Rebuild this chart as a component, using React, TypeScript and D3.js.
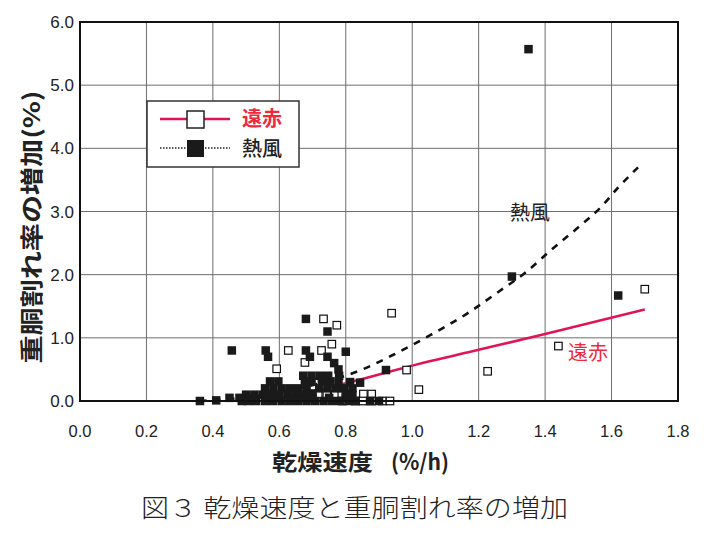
import React from "react";
import * as d3 from "d3";

// ---- data ----
const xTickValues = [0, 0.2, 0.4, 0.6, 0.8, 1.0, 1.2, 1.4, 1.6, 1.8];
const yTickValues = [0, 1, 2, 3, 4, 5, 6];

// 熱風 (hot air) – filled squares
const hotAirPoints: [number, number][] = [
  [1.35, 5.57], [1.30, 1.97], [1.62, 1.67], [0.68, 1.30], [0.745, 1.10],
  [0.457, 0.80], [0.559, 0.80], [0.566, 0.70], [0.68, 0.80], [0.692, 0.70],
  [0.80, 0.78], [0.745, 0.70], [0.765, 0.60], [0.778, 0.50], [0.78, 0.40],
  [0.921, 0.49], [0.843, 0.29],
  [0.672, 0.40], [0.697, 0.40], [0.722, 0.40], [0.747, 0.40],
  [0.572, 0.31], [0.597, 0.31], [0.677, 0.31], [0.697, 0.31], [0.728, 0.31],
  [0.753, 0.31], [0.778, 0.31], [0.813, 0.30],
  [0.557, 0.20], [0.582, 0.20], [0.607, 0.20], [0.632, 0.20], [0.657, 0.20],
  [0.682, 0.20], [0.72, 0.20], [0.745, 0.20], [0.77, 0.20], [0.795, 0.20], [0.82, 0.20],
  [0.50, 0.10], [0.525, 0.10], [0.55, 0.10], [0.575, 0.10], [0.60, 0.10],
  [0.625, 0.10], [0.65, 0.10], [0.675, 0.10], [0.70, 0.12], [0.80, 0.10], [0.82, 0.10],
  [0.45, 0.05], [0.48, 0.05], [0.52, 0.05], [0.56, 0.05], [0.60, 0.05],
  [0.64, 0.05], [0.70, 0.05], [0.75, 0.05], [0.80, 0.05],
  [0.361, 0], [0.41, 0.01], [0.487, 0], [0.506, 0], [0.53, 0], [0.557, 0], [0.581, 0],
  [0.607, 0], [0.632, 0], [0.657, 0], [0.682, 0], [0.707, 0], [0.733, 0],
  [0.758, 0], [0.783, 0], [0.808, 0], [0.828, 0], [0.873, 0], [0.90, 0],
];

// 遠赤 (far infrared) – open squares
const farInfraredPoints: [number, number][] = [
  [1.70, 1.77], [1.44, 0.87], [1.227, 0.47], [0.983, 0.49], [1.02, 0.18],
  [0.938, 1.39], [0.733, 1.30], [0.773, 1.20], [0.758, 0.90], [0.627, 0.80],
  [0.727, 0.80], [0.677, 0.61], [0.592, 0.51],
  [0.717, 0.11], [0.743, 0.11], [0.768, 0.11], [0.788, 0.11], [0.853, 0.11],
  [0.878, 0.11], [0.677, 0.09], [0.64, 0.13],
  [0.79, 0], [0.83, 0], [0.852, 0], [0.878, 0], [0.91, 0], [0.933, 0],
];

// fitted curves
const hotAirFit: [number, number][] = [
  [0.36, 0.0], [0.45, 0.03], [0.55, 0.09], [0.65, 0.19], [0.75, 0.32],
  [0.85, 0.5], [0.95, 0.75], [1.05, 1.03], [1.17, 1.4], [1.26, 1.73],
  [1.34, 2.03], [1.42, 2.4], [1.5, 2.75], [1.57, 3.08], [1.62, 3.38], [1.68, 3.7],
];
const farInfraredFit: [number, number][] = [
  [0.55, 0.0], [0.63, 0.07], [0.7, 0.15], [0.8, 0.28], [0.9, 0.42],
  [1.0, 0.56], [1.2, 0.81], [1.4, 1.06], [1.7, 1.45],
];

const seriesNames = ["遠赤", "熱風"];

const RED = "#e0145a";
const RED_TEXT = "#f0283c";
const SANS = "'Liberation Sans', Arial, sans-serif";
const CJK = "'Noto Sans CJK JP', sans-serif";

export default function App() {
  const left = 80, right = 678, top = 22, bottom = 401;
  const x = d3.scaleLinear().domain([0, 1.8]).range([left, right]);
  const y = d3.scaleLinear().domain([0, 6]).range([bottom, top]);
  const line = d3
    .line<[number, number]>()
    .x((d) => x(d[0]))
    .y((d) => y(d[1]))
    .curve(d3.curveMonotoneX);
  const ms = 7.5;

  return (
    <svg
      width={704}
      height={534}
      style={{ position: "absolute", left: 0, top: 0, background: "#ffffff" }}
    >
      <rect x={0} y={0} width={704} height={534} fill="#ffffff" />
      {/* grid */}
      {xTickValues.slice(1, -1).map((t) => (
        <line key={"gx" + t} x1={x(t)} x2={x(t)} y1={top} y2={bottom} stroke="#6e6e6e" strokeWidth={1} />
      ))}
      {yTickValues.slice(1, -1).map((t) => (
        <line key={"gy" + t} x1={left} x2={right} y1={y(t)} y2={y(t)} stroke="#6e6e6e" strokeWidth={1} />
      ))}
      {/* fitted lines */}
      <path d={line(farInfraredFit) || ""} fill="none" stroke={RED} strokeWidth={2.5} />
      <path d={line(hotAirFit) || ""} fill="none" stroke="#111" strokeWidth={2.6} strokeDasharray="7,7" />
      {/* points */}
      {farInfraredPoints.map((d, i) => (
        <rect key={"o" + i} x={x(d[0]) - ms / 2} y={y(d[1]) - ms / 2} width={ms} height={ms} fill="#fff" stroke="#111" strokeWidth={1.2} />
      ))}
      {hotAirPoints.map((d, i) => (
        <rect key={"f" + i} x={x(d[0]) - ms / 2 - 0.5} y={y(d[1]) - ms / 2 - 0.5} width={ms + 1} height={ms + 1} fill="#1a1a1a" />
      ))}
      {/* frame */}
      <rect x={left} y={top} width={right - left} height={bottom - top} fill="none" stroke="#111" strokeWidth={2} />
      {/* ticks */}
      {xTickValues.map((t) => (
        <text key={"tx" + t} x={x(t)} y={437} textAnchor="middle" fontFamily={SANS} fontSize={16.5} fill="#222">
          {t.toFixed(1)}
        </text>
      ))}
      {yTickValues.map((t) => (
        <text key={"ty" + t} x={74} y={y(t) + 6} textAnchor="end" fontFamily={SANS} fontSize={17} fill="#222">
          {t.toFixed(1)}
        </text>
      ))}
      {/* axis titles */}
      <text x={272} y={470} fontFamily={CJK} fontWeight={700} fontSize={22} fill="#222" textLength={101} lengthAdjust="spacingAndGlyphs">
        乾燥速度
      </text>
      <text x={391} y={470} fontFamily={CJK} fontWeight={700} fontSize={22} fill="#222" textLength={58} lengthAdjust="spacingAndGlyphs">
        (%/h)
      </text>
      <text
        transform="translate(30,227) rotate(-90)"
        textAnchor="middle"
        dominantBaseline="central"
        fontFamily={CJK}
        fontWeight={700}
        fontSize={23}
        fill="#222"
        textLength={273}
        lengthAdjust="spacingAndGlyphs"
      >
        重胴割れ率の増加(%)
      </text>
      {/* caption */}
      <text x={141} y={517} fontFamily={CJK} fontWeight={300} fontSize={25} fill="#222" textLength={427} lengthAdjust="spacingAndGlyphs">
        図３ 乾燥速度と重胴割れ率の増加
      </text>
      {/* annotations */}
      <text x={530} y={220} textAnchor="middle" fontFamily={CJK} fontSize={20} fill="#222">
        熱風
      </text>
      <text x={588} y={360} textAnchor="middle" fontFamily={CJK} fontSize={20} fill={RED_TEXT}>
        遠赤
      </text>
      {/* legend */}
      <rect x={147} y={101} width={152} height={66} fill="#fff" stroke="#333" strokeWidth={1.5} />
      <line x1={160} x2={230} y1={119} y2={119} stroke={RED} strokeWidth={2.5} />
      <rect x={187} y={111} width={17} height={17} fill="#fff" stroke="#222" strokeWidth={1.5} />
      <text x={242} y={126} fontFamily={CJK} fontWeight={700} fontSize={20} fill={RED_TEXT}>
        {seriesNames[0]}
      </text>
      <line x1={160} x2={230} y1={148} y2={148} stroke="#222" strokeWidth={1.3} strokeDasharray="1.5,1.5" />
      <rect x={187} y={140} width={17} height={17} fill="#1a1a1a" />
      <text x={242} y={156} fontFamily={CJK} fontWeight={500} fontSize={20} fill="#222">
        {seriesNames[1]}
      </text>
    </svg>
  );
}
